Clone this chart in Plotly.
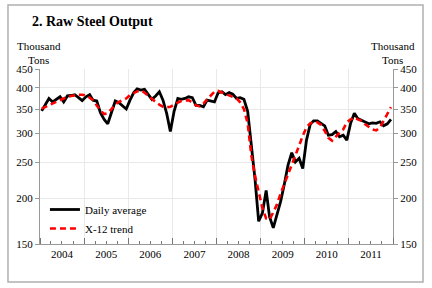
import pandas as pd
import plotly.graph_objects as go

# monthly, Jan 2004 - Dec 2011 (thousand tons)
months = pd.date_range("2004-01-01", periods=96, freq="MS") + pd.Timedelta(days=14)

daily_avg = [
    346, 360, 374, 366, 372, 378, 366, 380, 381, 383, 376, 369,   # 2004
    378, 383, 370, 368, 342, 328, 319, 345, 368, 364, 356, 350,   # 2005
    370, 388, 397, 394, 396, 385, 372, 380, 390, 370, 340, 304,   # 2006
    345, 374, 372, 374, 378, 376, 358, 358, 355, 370, 368, 366,   # 2007
    388, 390, 383, 388, 384, 374, 376, 372, 345, 285, 225, 173,   # 2008
    182, 210, 178, 166, 180, 196, 218, 246, 266, 251, 257, 241,   # 2009
    288, 318, 325, 325, 320, 315, 297, 298, 304, 294, 297, 288,   # 2010
    320, 341, 330, 326, 322, 319, 321, 320, 323, 315, 319, 328,   # 2011
]

x12_trend = [
    351, 355, 359, 363, 366, 370, 374, 378, 380, 382, 383, 383,
    381, 376, 370, 358, 347, 339, 341, 350, 360, 366, 370, 374,
    382, 387, 391, 393, 388, 380, 372, 366, 360, 355, 354, 355,
    360, 365, 368, 369, 370, 365, 358, 356, 362, 372, 382, 390,
    392, 388, 384, 381, 378, 374, 365, 350, 320, 262, 230, 207,
    188, 176, 175, 183, 192, 206, 218, 232, 245, 260, 278, 296,
    312, 320, 323, 322, 317, 305, 292, 287, 295, 302, 308, 322,
    328, 332, 328, 325, 318, 312, 308, 306, 312, 325, 338, 354,
]

y_ticks = [150, 200, 250, 300, 350, 400, 450]

serif = "Liberation Serif, Times New Roman, serif"

fig = go.Figure()
fig.add_trace(go.Scatter(x=months, y=daily_avg, name="Daily average", mode="lines",
                         line=dict(color="black", width=2.8)))
fig.add_trace(go.Scatter(x=months, y=x12_trend, name="X-12 trend", mode="lines",
                         line=dict(color="#ff0000", width=2.6, dash="6px,4px")))
# invisible copy so the right-hand axis is drawn
fig.add_trace(go.Scatter(x=months, y=daily_avg, yaxis="y2", mode="lines",
                         line=dict(width=0), opacity=0, showlegend=False, hoverinfo="skip"))

yax = dict(type="log", range=[2.1761, 2.6532], tickvals=y_ticks,
           ticktext=[str(v) for v in y_ticks], showgrid=True, gridcolor="#e9e9e9",
           showline=True, linecolor="#999999", linewidth=1,
           ticks="outside", ticklen=4, tickcolor="#999999", automargin=False,
           tickfont=dict(family=serif, size=11, color="black"), zeroline=False)

fig.update_layout(
    width=432, height=288,
    margin=dict(l=40, r=39, t=69, b=44, autoexpand=False),
    paper_bgcolor="white", plot_bgcolor="white",
    font=dict(family=serif, size=11, color="black"),
    xaxis=dict(type="date", range=["2004-01-01", "2012-01-01"],
               dtick="M12", tick0="2004-01-01", tickformat="%Y", ticklabelmode="period",
               showgrid=True, gridcolor="#e9e9e9", automargin=False,
               showline=True, linecolor="#999999", linewidth=1,
               ticks="inside", ticklen=6, tickcolor="#777777",
               minor=dict(dtick="M3", ticks="inside", ticklen=3, tickcolor="#777777", showgrid=False),
               tickfont=dict(family=serif, size=11, color="black")),
    yaxis=yax,
    yaxis2=dict(yax, overlaying="y", side="right"),
    showlegend=True,
    legend=dict(x=0.014, y=0.28, xanchor="left", yanchor="top", bgcolor="rgba(0,0,0,0)",
                font=dict(family=serif, size=11), itemwidth=30),
)

# title and unit labels
fig.add_annotation(text="<b>2. Raw Steel Output</b>", xref="paper", yref="paper",
                   x=-0.0283, y=1.2686, xanchor="left", yanchor="middle", showarrow=False,
                   font=dict(family=serif, size=14))
for xp in (-0.003, 1.0):
    fig.add_annotation(text="Thousand<br>Tons", xref="paper", yref="paper", x=xp, y=1.0886,
                       xanchor="center", yanchor="middle", showarrow=False,
                       font=dict(family=serif, size=11))

# outer frame
fig.add_shape(type="rect", xref="paper", yref="paper",
              x0=-0.0907, x1=1.085, y0=-0.217, y1=1.366,
              line=dict(color="#b0b0b0", width=1.5))

fig.write_html("out.html", config={"displayModeBar": False},
               post_script="document.body.style.margin='0';")
